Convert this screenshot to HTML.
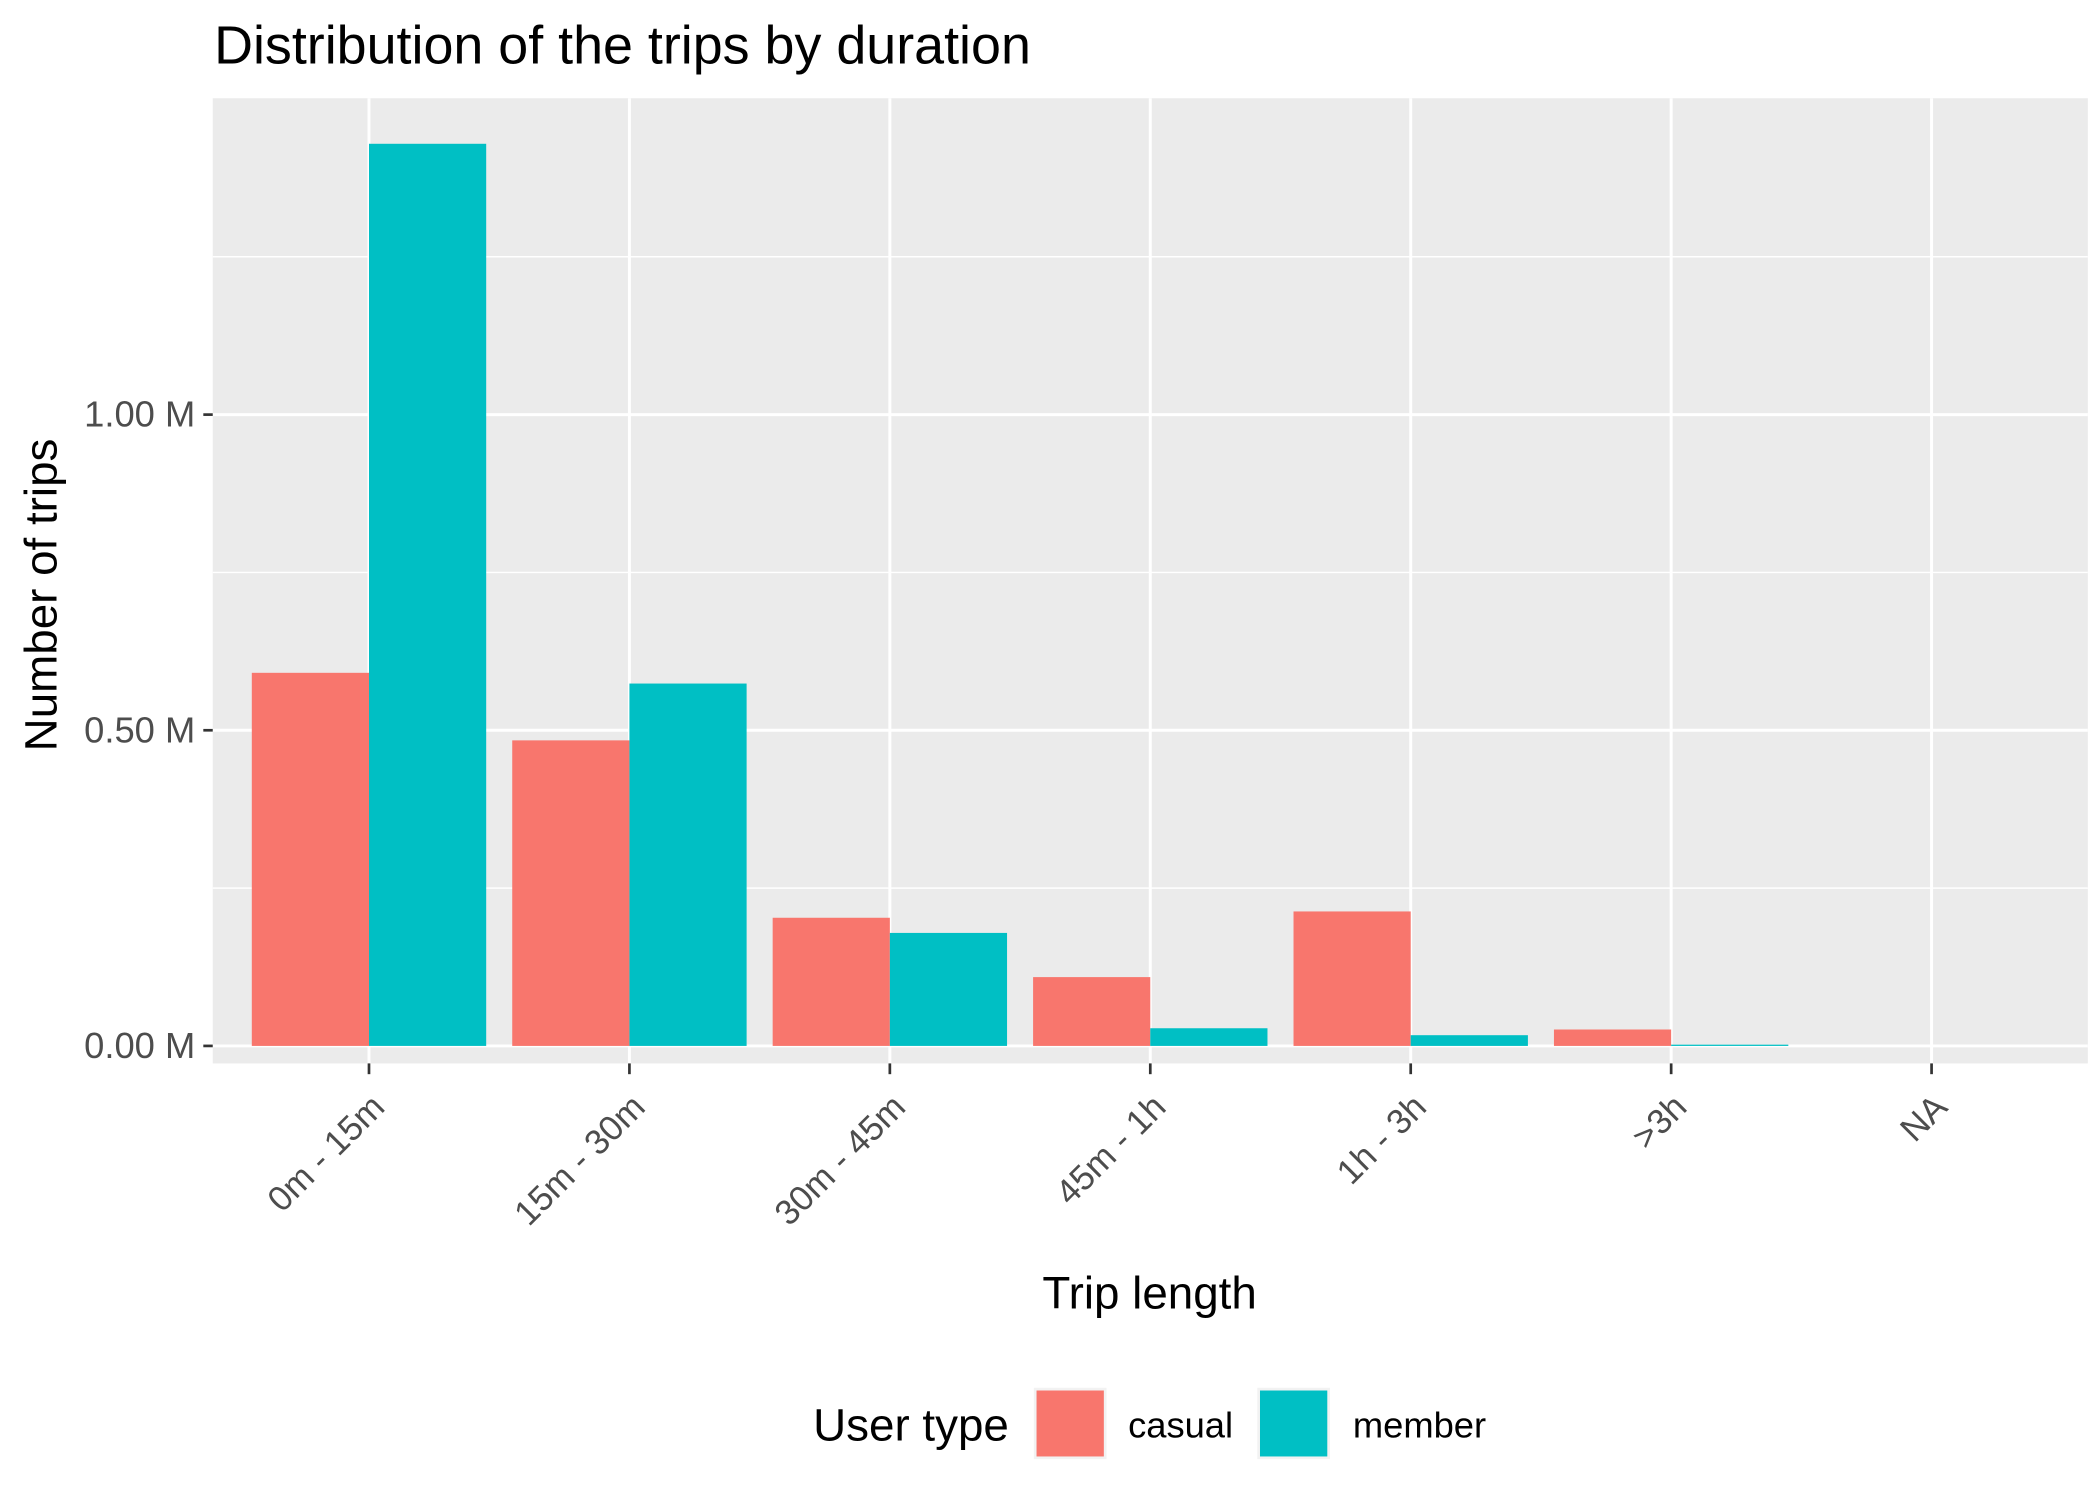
<!DOCTYPE html>
<html><head><meta charset="utf-8"><style>
html,body{margin:0;padding:0;background:#fff;}
svg{display:block;font-family:"Liberation Sans",Arial,sans-serif;}
</style></head><body>
<svg id="chart" width="2100" height="1499" viewBox="0 0 1560 1113.6" xmlns="http://www.w3.org/2000/svg">
<rect x="0" y="0" width="1560" height="1114" fill="#fff"/>
<text x="159" y="47" font-size="40" fill="#000">Distribution of the trips by duration</text>
<rect x="158" y="73" width="1393" height="717" fill="#ebebeb"/>
<g id="grid"></g>
<g id="bars"></g>
<g id="axes"></g>
<text transform="translate(42,442) rotate(-90)" text-anchor="middle" font-size="34" fill="#000">Number of trips</text>
<text x="854" y="972" text-anchor="middle" font-size="34" fill="#000">Trip length</text>
<g>
<text x="604" y="1070" font-size="34" fill="#000">User type</text>
<rect x="768" y="1031" width="54" height="53" fill="#f2f2f2"/>
<rect x="770" y="1033" width="50" height="49" fill="#F8766D"/>
<text x="838" y="1068" font-size="27" fill="#000">casual</text>
<rect x="934" y="1031" width="54" height="53" fill="#f2f2f2"/>
<rect x="936" y="1033" width="50" height="49" fill="#00BFC4"/>
<text x="1005" y="1068" font-size="27" fill="#000">member</text>
</g>
</svg>
<script>
const categories = ["0m - 15m","15m - 30m","30m - 45m","45m - 1h","1h - 3h",">3h","NA"];
const casualValues = [0.591,0.484,0.203,0.109,0.213,0.026,0];
const memberValues = [1.429,0.574,0.179,0.028,0.017,0.002,0];
const yTickValues = [0,0.5,1.0];
const yTickLabels = ["0.00 M","0.50 M","1.00 M"];
const yMinorValues = [0.25,0.75,1.25];

const NS="http://www.w3.org/2000/svg";
const panelL=158, panelR=1551, panelT=73, panelB=790;
const yMin=-0.0277, yMax=1.5011;
function yScale(v){return panelB-(v-yMin)/(yMax-yMin)*(panelB-panelT);}
const step=(panelR-panelL)/(categories.length+0.2);
function xScale(i){return panelL+step*(0.6+i);}
const barW=step*0.45;
function mk(tag,attrs,parent){const e=document.createElementNS(NS,tag);for(const k in attrs)e.setAttribute(k,attrs[k]);parent.appendChild(e);return e;}
const grid=document.getElementById('grid'),bars=document.getElementById('bars'),axes=document.getElementById('axes');
yMinorValues.forEach(v=>{const l=mk('line',{x1:panelL,x2:panelR,y1:yScale(v),y2:yScale(v),stroke:'#fff','stroke-width':1.1},grid);

});
yTickValues.forEach((v,i)=>{const y=yScale(v);
const l=mk('line',{x1:panelL,x2:panelR,y1:y,y2:y,stroke:'#fff','stroke-width':2.2},grid);


const t=mk('line',{x1:panelL-7,x2:panelL,y1:y,y2:y,stroke:'#333','stroke-width':2},axes);


const tx=mk('text',{x:panelL-13,y:y+9,'text-anchor':'end','font-size':'27',fill:'#4d4d4d'},axes);tx.textContent=yTickLabels[i];

});
categories.forEach((c,i)=>{const x=xScale(i);
const g=mk('line',{x1:x,x2:x,y1:panelT,y2:panelB,stroke:'#fff','stroke-width':2.2},grid);


const y0=yScale(0);
const b1=mk('rect',{x:x-barW,y:yScale(casualValues[i]),width:barW,height:y0-yScale(casualValues[i]),fill:'#F8766D'},bars);


const b2=mk('rect',{x:x,y:yScale(memberValues[i]),width:barW,height:y0-yScale(memberValues[i]),fill:'#00BFC4'},bars);


const t=mk('line',{x1:x,x2:x,y1:panelB,y2:panelB+8,stroke:'#333','stroke-width':2},axes);


const tx=mk('text',{transform:'translate('+(x+13)+','+(panelB+34)+') rotate(-45)','text-anchor':'end','font-size':'26',fill:'#4d4d4d'},axes);tx.textContent=c;

});
</script>
</body></html>
